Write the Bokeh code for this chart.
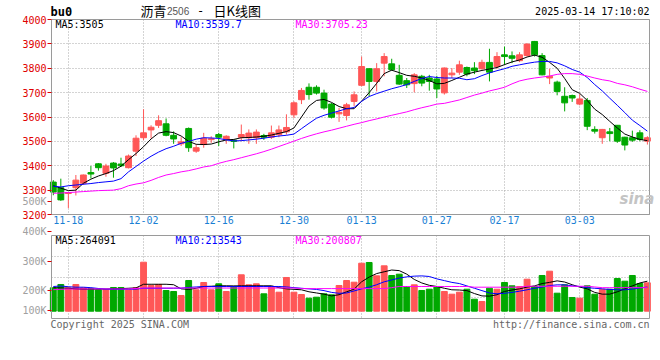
from bokeh.plotting import figure
from bokeh.models import Range1d, FixedTicker, Label, ColumnDataSource, LinearAxis, Grid
from bokeh.embed import file_html
from bokeh.resources import INLINE

# ---------------- data ----------------
DATES = ["11-14", "11-15", "11-18", "11-19", "11-20", "11-21", "11-22", "11-25", "11-26", "11-27",
         "11-28", "11-29", "12-02", "12-03", "12-04", "12-05", "12-06", "12-09", "12-10", "12-11",
         "12-12", "12-13", "12-16", "12-17", "12-18", "12-19", "12-20", "12-23", "12-24", "12-25",
         "12-26", "12-27", "12-30", "12-31", "01-02", "01-03", "01-06", "01-07", "01-08", "01-09",
         "01-10", "01-13", "01-14", "01-15", "01-16", "01-17", "01-20", "01-21", "01-22", "01-23",
         "01-24", "01-27", "02-05", "02-06", "02-07", "02-10", "02-11", "02-12", "02-13", "02-14",
         "02-17", "02-18", "02-19", "02-20", "02-21", "02-24", "02-25", "02-26", "02-27", "02-28",
         "03-03", "03-04", "03-05", "03-06", "03-07", "03-10", "03-11", "03-12", "03-13", "03-14"]

OPEN = [3333, 3310, 3286, 3310, 3328, 3372, 3408, 3369, 3411, 3407,
        3392, 3460, 3515, 3547, 3566, 3572, 3525, 3490, 3553, 3460,
        3487, 3507, 3528, 3508, 3505, 3517, 3515, 3515, 3524, 3517,
        3528, 3539, 3609, 3671, 3722, 3722, 3698, 3653, 3613, 3606,
        3664, 3730, 3798, 3746, 3821, 3818, 3771, 3749, 3737, 3767,
        3760, 3756, 3699, 3773, 3784, 3803, 3801, 3798, 3824, 3807,
        3855, 3851, 3831, 3852, 3910, 3852, 3760, 3743, 3685, 3688,
        3653, 3668, 3549, 3515, 3539, 3566, 3517, 3515, 3535, 3501]
HIGH = [3341, 3347, 3292, 3362, 3364, 3399, 3411, 3408, 3415, 3433,
        3446, 3525, 3632, 3566, 3607, 3594, 3541, 3517, 3557, 3487,
        3535, 3521, 3535, 3525, 3506, 3569, 3549, 3549, 3531, 3565,
        3565, 3611, 3664, 3719, 3738, 3730, 3712, 3658, 3637, 3658,
        3705, 3848, 3800, 3821, 3862, 3839, 3814, 3760, 3780, 3773,
        3773, 3769, 3803, 3801, 3831, 3807, 3825, 3835, 3880, 3866,
        3889, 3869, 3866, 3903, 3912, 3862, 3798, 3749, 3722, 3692,
        3694, 3678, 3562, 3551, 3555, 3567, 3519, 3544, 3546, 3521]
LOW = [3279, 3256, 3226, 3278, 3321, 3348, 3380, 3355, 3351, 3395,
       3389, 3440, 3505, 3512, 3555, 3521, 3490, 3481, 3457, 3453,
       3474, 3494, 3481, 3490, 3471, 3501, 3490, 3490, 3506, 3510,
       3517, 3528, 3596, 3653, 3671, 3692, 3630, 3594, 3580, 3586,
       3644, 3726, 3685, 3705, 3767, 3790, 3732, 3719, 3701, 3726,
       3708, 3678, 3692, 3760, 3773, 3767, 3776, 3794, 3746, 3798,
       3814, 3821, 3825, 3848, 3848, 3771, 3735, 3689, 3623, 3662,
       3648, 3546, 3532, 3490, 3501, 3494, 3463, 3498, 3501, 3487]
CLOSE = [3292, 3260, 3290, 3341, 3362, 3366, 3392, 3399, 3391, 3400,
         3440, 3513, 3535, 3558, 3585, 3525, 3510, 3498, 3474, 3474,
         3513, 3511, 3517, 3521, 3500, 3528, 3534, 3538, 3517, 3535,
         3547, 3557, 3658, 3709, 3692, 3698, 3637, 3599, 3619, 3650,
         3691, 3807, 3746, 3798, 3848, 3794, 3735, 3732, 3773, 3739,
         3746, 3715, 3801, 3780, 3814, 3776, 3790, 3824, 3784, 3848,
         3848, 3841, 3855, 3899, 3855, 3773, 3767, 3705, 3658, 3678,
         3674, 3562, 3542, 3549, 3532, 3501, 3485, 3505, 3508, 3515]

MA5 = [3318, 3308, 3298, 3300, 3328, 3345, 3358, 3368, 3380, 3398,
       3425, 3450, 3478, 3510, 3534, 3540, 3536, 3522, 3500, 3488,
       3487, 3489, 3498, 3506, 3508, 3515, 3516, 3518, 3521, 3526,
       3533, 3540, 3555, 3600, 3645, 3668, 3672, 3660, 3643, 3634,
       3634, 3665, 3700, 3738, 3778, 3792, 3782, 3771, 3767, 3760,
       3750, 3736, 3738, 3750, 3763, 3776, 3784, 3791, 3797, 3803,
       3815, 3826, 3834, 3846, 3854, 3845, 3824, 3800, 3758, 3712,
       3697, 3668, 3632, 3610, 3582, 3555, 3530, 3518, 3508, 3503]
MA10 = [3316, 3313, 3318, 3321, 3324, 3327, 3331, 3334, 3337, 3347,
        3375, 3397, 3419, 3439, 3456, 3470, 3480, 3492, 3500, 3509,
        3515, 3514, 3512, 3506, 3502, 3503, 3506, 3509, 3513, 3518,
        3522, 3525, 3530, 3552, 3574, 3595, 3607, 3616, 3625, 3634,
        3639, 3664, 3684, 3696, 3706, 3716, 3724, 3733, 3746, 3758,
        3766, 3762, 3760, 3760, 3759, 3753, 3757, 3770, 3781, 3790,
        3798, 3808, 3814, 3820, 3825, 3828, 3828, 3822, 3810, 3795,
        3784, 3762, 3733, 3707, 3677, 3648, 3618, 3587, 3565, 3542]
MA30 = [3287, 3288, 3290, 3292, 3294, 3296, 3298, 3299, 3300, 3306,
        3318, 3325, 3330, 3340, 3352, 3362, 3368, 3375, 3380, 3387,
        3395, 3400, 3410, 3418, 3425, 3433, 3441, 3449, 3458, 3468,
        3479, 3490, 3501, 3512, 3522, 3531, 3539, 3546, 3554, 3562,
        3570, 3577, 3585, 3592, 3600, 3607, 3614, 3621, 3630, 3638,
        3645, 3653, 3656, 3663, 3670, 3680, 3690, 3698, 3707, 3714,
        3722, 3736, 3748, 3755, 3760, 3764, 3768, 3775, 3778, 3778,
        3775, 3768, 3760, 3753, 3748, 3738, 3732, 3724, 3714, 3705]

VOLUME = [198900, 227000, 198900, 227000, 198900, 190400, 181900, 181900, 201500, 201500,
          181900, 198900, 416500, 218500, 227000, 176000, 167500, 133500, 261000, 181900,
          244000, 181900, 232900, 167500, 210000, 309400, 224400, 232900, 147900, 210000,
          161500, 286500, 161500, 142000, 110500, 119000, 147900, 139400, 218500, 261000,
          246500, 408000, 414000, 300900, 385900, 303500, 314500, 210000, 224400, 176000,
          187000, 210000, 167500, 144500, 161500, 187000, 102000, 82500, 195500, 187000,
          244000, 215900, 210000, 272000, 210000, 303500, 340000, 153000, 224400, 116500,
          110500, 215900, 144500, 187000, 187000, 278000, 255000, 303500, 235500, 241400]
VMA5 = [200000, 198000, 195000, 190000, 187000, 188000, 188000, 188000, 190000, 192000,
        195000, 198000, 229000, 229000, 229000, 229000, 225000, 190000, 185000, 195000,
        210000, 212000, 216000, 216000, 215000, 216000, 216000, 216000, 216000, 216000,
        200000, 190000, 186000, 182000, 165000, 155000, 145000, 130000, 140000, 165000,
        187000, 250000, 290000, 320000, 335000, 350000, 345000, 315000, 270000, 240000,
        220000, 210000, 195000, 182000, 180000, 175000, 150000, 130000, 128000, 140000,
        168000, 180000, 190000, 205000, 215000, 235000, 245000, 258000, 248000, 225000,
        205000, 190000, 160000, 145000, 145000, 165000, 190000, 215000, 240000, 255000]
VMA10 = [210000, 214000, 208000, 204000, 204000, 200000, 193000, 188000, 187000, 187000,
         187000, 188000, 195000, 195000, 195000, 195000, 195000, 196000, 202000, 206000,
         210000, 210000, 210000, 210000, 210000, 210000, 210000, 210000, 210000, 210000,
         210000, 206000, 200000, 195000, 190000, 185000, 175000, 160000, 152000, 155000,
         172000, 190000, 205000, 225000, 250000, 265000, 282000, 292000, 298000, 300000,
         295000, 275000, 260000, 245000, 235000, 215000, 195000, 175000, 155000, 148000,
         152000, 160000, 170000, 182000, 195000, 205000, 218000, 224000, 224000, 215000,
         210000, 200000, 195000, 190000, 185000, 182000, 182000, 188000, 198000, 205000]
VMA30 = [183000, 186000, 189000, 189000, 189000, 189000, 189000, 189000, 189000, 189000,
         189000, 193000, 197000, 197000, 197000, 197000, 197000, 197000, 197000, 197000,
         197000, 197000, 197000, 197000, 197000, 197000, 197000, 197000, 197000, 197000,
         197000, 197000, 197000, 192000, 192000, 192000, 192000, 192000, 192000, 192000,
         192000, 192000, 192000, 192000, 192000, 200000, 210000, 210000, 210000, 210000,
         210000, 210000, 210000, 210000, 210000, 210000, 204000, 204000, 204000, 204000,
         204000, 204000, 204000, 212000, 212000, 212000, 212000, 212000, 212000, 212000,
         212000, 212000, 206000, 200000, 200000, 200000, 200000, 200000, 200000, 200000]

PRICE_TICKS = [3200, 3300, 3400, 3500, 3600, 3700, 3800, 3900, 4000]
DATE_TICKS = ["11-18", "12-02", "12-16", "12-30", "01-13", "01-27", "02-17", "03-03"]
VOL_LABELS = ["100K", "200K", "300K", "400K", "500K"]

TITLE_NAME = "沥青"
TITLE_CODE = "2506"
TITLE_SEP = "-"
TITLE_KIND = "日K线图"
CODE = "bu0"
STAMP = "2025-03-14 17:10:02"
PRICE_MA_TEXT = ["MA5:3505", "MA10:3539.7", "MA30:3705.23"]
VOL_MA_TEXT = ["MA5:264091", "MA10:213543", "MA30:200807"]

# ---------------- layout / style constants ----------------
RED = "#ff5757"
GREEN = "#00a800"
GRID = "#a8a8a8"
BORDER = "#9a9a9a"
MONO = "DejaVu Sans Mono"
CJK = "Noto Sans CJK SC"
MA_COLORS = ["#000000", "#0000ff", "#ff00ff"]

W, H = 660, 340                    # canvas (page) size in px
PL, PR = 51, 649                   # plot area left / right (px)
PT, PB = 19, 214                   # price panel top / bottom (px)
VT, VB = 235, 318                  # volume panel top / bottom (px)
SLOT = 7.52                        # px per trading day
XS = -0.24                         # index value at plot-area left edge
XE = XS + (PR - PL) / SLOT         # index value at plot-area right edge
PX_PER_VOL = 1 / 8500.0            # volume scale
VOL0_PX = 310.7                    # px of zero volume


# page-px -> data helpers
def px2idx(px):
    return XS + (px - PL) / SLOT


def py2price(py):
    return PRICE_TICKS[0] + (PB - py) * (PRICE_TICKS[-1] - PRICE_TICKS[0]) / (PB - PT)


def py2vol(py):
    return int(round((VOL0_PX - py) / PX_PER_VOL))


p = figure(width=W, height=H, output_backend="svg", toolbar_location=None, tools="",
           x_range=Range1d(px2idx(0), px2idx(W)), y_range=Range1d(H, 0),
           x_axis_type=None, y_axis_type=None, min_border=0)
p.extra_x_ranges = {"px": Range1d(0, W)}
p.extra_y_ranges = {"price": Range1d(py2price(H), py2price(0)),
                    "vol": Range1d(py2vol(H), py2vol(0))}
p.outline_line_color = None
p.background_fill_color = "white"
p.border_fill_color = "white"

idx = list(range(len(CLOSE)))
cols = [RED if c >= o else GREEN for o, c in zip(OPEN, CLOSE)]
src = ColumnDataSource(dict(
    x=idx, h=HIGH, l=LOW,
    top=[max(o, c) for o, c in zip(OPEN, CLOSE)],
    bot=[min(o, c) for o, c in zip(OPEN, CLOSE)],
    col=cols, vol=VOLUME))
date_idx = [DATES.index(d) for d in DATE_TICKS]


# ---------------- grids ----------------
def add_grid(dim, ticks, cross, yname="default"):
    g = Grid(dimension=dim, ticker=FixedTicker(ticks=ticks), y_range_name=yname,
             grid_line_color=GRID, grid_line_dash="1 2", grid_line_width=1)
    g.cross_bounds = cross
    p.add_layout(g)


add_grid(1, PRICE_TICKS, (XS, XE), "price")
add_grid(0, date_idx, (PT, PB))
vol_grid = [py2vol(VT + k * (VB - VT) / 4) for k in (1, 2, 3)]
add_grid(1, vol_grid, (XS, XE), "vol")
add_grid(0, date_idx, (VT, VB))

# ---------------- axes ----------------
ya = LinearAxis(y_range_name="price", fixed_location=XS, ticker=FixedTicker(ticks=PRICE_TICKS),
                bounds=(PRICE_TICKS[0], PRICE_TICKS[-1]))
vol_ticks = [py2vol(y) for y in (310, 290, 261, 230.5, 200.5)]
va = LinearAxis(y_range_name="vol", fixed_location=XS, ticker=FixedTicker(ticks=vol_ticks),
                bounds=(vol_ticks[0], vol_ticks[-1]))
va.major_label_overrides = {t: s for t, s in zip(vol_ticks, VOL_LABELS)}
for ax, col in ((ya, "#e00000"), (va, "#a0a0a0")):
    ax.axis_line_color = None
    ax.major_tick_out = 4
    ax.major_tick_in = 0
    ax.major_tick_line_color = "#e00000"
    ax.minor_tick_line_color = None
    ax.major_label_standoff = 1
    ax.major_label_text_color = col
    ax.major_label_text_font = MONO
    ax.major_label_text_font_size = "10px"
    p.add_layout(ax, "left")

xa = LinearAxis(fixed_location=PB, ticker=FixedTicker(ticks=date_idx), bounds=(XS, XE))
xa.major_label_overrides = {i: d for i, d in zip(date_idx, DATE_TICKS)}
xa.axis_line_color = BORDER
xa.major_tick_line_color = None
xa.minor_tick_line_color = None
xa.major_tick_out = 0
xa.major_label_standoff = 1
xa.major_label_text_color = "#1a7fd4"
xa.major_label_text_font = MONO
xa.major_label_text_font_size = "10px"
p.add_layout(xa, "below")

# ---------------- price panel ----------------
p.segment(x0="x", y0="h", x1="x", y1="l", color="col", line_width=1, source=src,
          y_range_name="price")
p.vbar(x="x", width=0.78, top="top", bottom="bot", fill_color="col", line_color="col",
       line_width=1, source=src, y_range_name="price")
for ser, c in zip((MA5, MA10, MA30), MA_COLORS):
    p.line(idx, ser, line_color=c, line_width=1, y_range_name="price")
p.quad(left=XS, right=XE, bottom=PRICE_TICKS[0], top=PRICE_TICKS[-1], fill_color=None,
       line_color=BORDER, line_width=1, y_range_name="price")

# ---------------- volume panel ----------------
p.vbar(x="x", width=0.78, top="vol", bottom=0, fill_color="col", line_color="col",
       line_width=1, source=src, y_range_name="vol")
for ser, c in zip((VMA5, VMA10, VMA30), MA_COLORS):
    p.line(idx, ser, line_color=c, line_width=1, y_range_name="vol")
p.quad(left=XS, right=XE, bottom=py2vol(VB), top=py2vol(VT), fill_color=None,
       line_color=BORDER, line_width=1, y_range_name="vol")


# ---------------- texts ----------------
def lab(x, y, text, color="#000000", size="10px", font=MONO, align="left", style_="normal"):
    p.add_layout(Label(x=x, y=y, x_range_name="px", text=text, text_color=color,
                       text_font=font, text_font_size=size, text_align=align,
                       text_baseline="middle", text_font_style=style_))


lab(50, 11, CODE, size="12px", style_="bold")
lab(140, 9.5, TITLE_NAME, size="13px", font=CJK)
lab(166.5, 10.5, TITLE_CODE, color="#555555", size="10px", font="Liberation Sans")
lab(200, 10, TITLE_SEP, size="12px", align="center")
lab(213, 9.5, TITLE_KIND, size="13px", font=CJK)
lab(649, 11, STAMP, align="right")
for t, c, x in zip(PRICE_MA_TEXT, MA_COLORS, (55, 175, 295)):
    lab(x, 24, t, color=c)
for t, c, x in zip(VOL_MA_TEXT, MA_COLORS, (55, 175, 295)):
    lab(x, 240, t, color=c)
lab(50, 324, "Copyright 2025 SINA.COM", color="#666666")
lab(649, 324, "http://finance.sina.com.cn", color="#666666", align="right")
lab(619, 198, "sina", color="#c4c4c4", size="15px", font="DejaVu Sans", style_="bold italic")

open("out.html", "w").write(file_html(p, INLINE))
